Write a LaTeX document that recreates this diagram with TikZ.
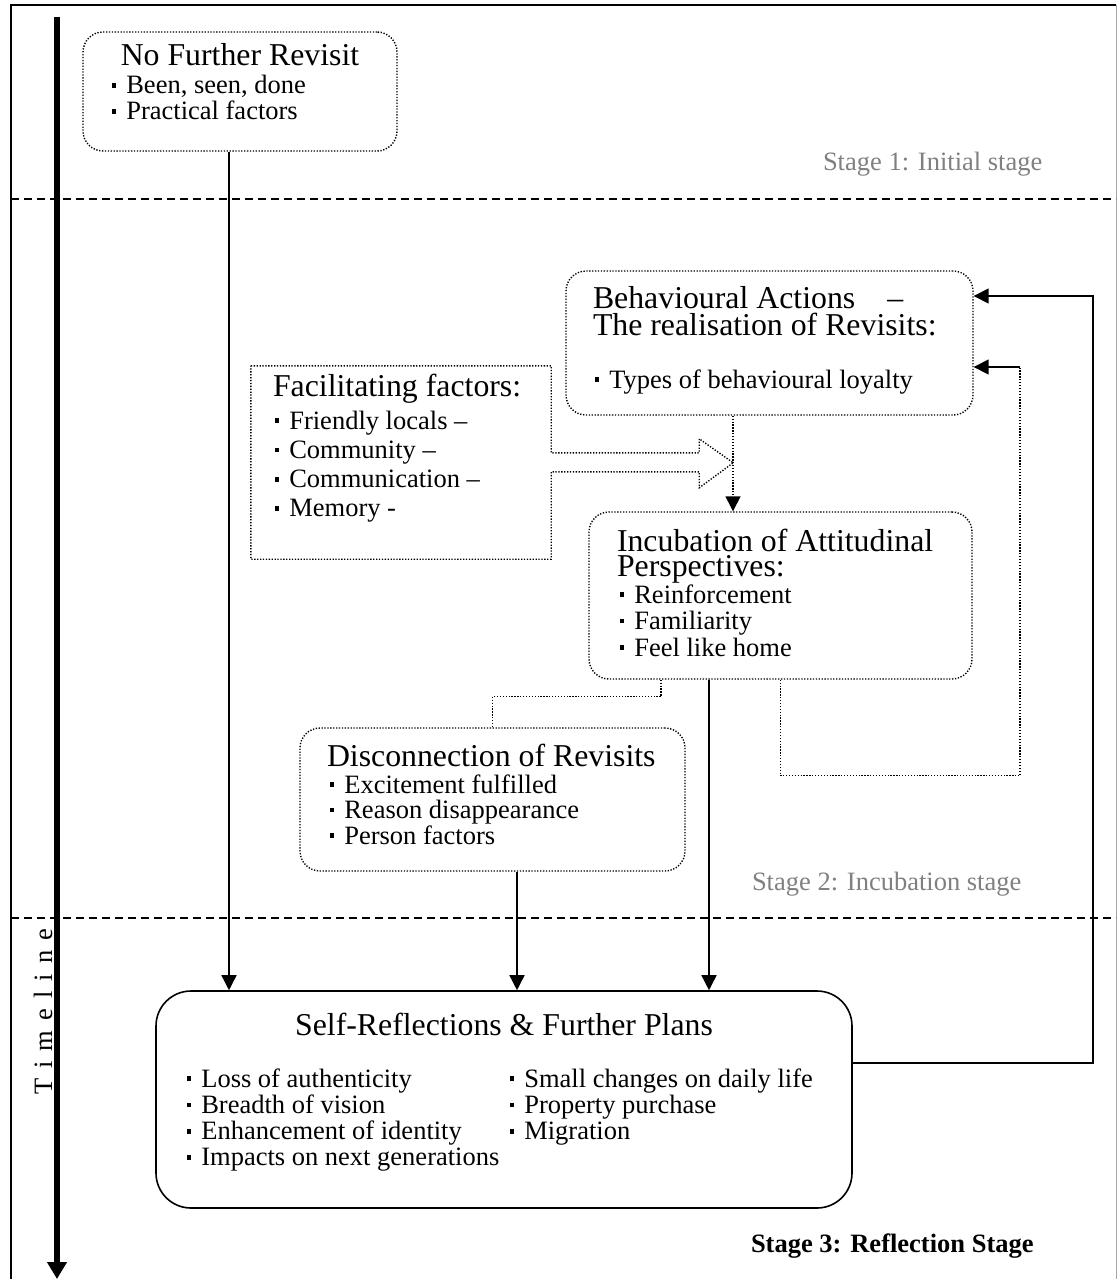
\documentclass[tikz,border=0pt]{standalone}
\usepackage{fontspec}
\setmainfont{Liberation Serif}
\usetikzlibrary{arrows.meta}

\definecolor{stagegray}{gray}{0.5}
\newcommand\titlefont{\fontsize{31.8pt}{27pt}\selectfont}
\newcommand\bodyfont{\fontsize{26.5pt}{26pt}\selectfont}
% small square bullet
\newcommand\bul{\rule[0.23em]{0.15em}{0.17em}\hspace{0.39em}}
\newcommand\li[1]{\hbox{\bul #1}}
% stack of lines with a fixed baseline distance
\newcommand\stk[2]{\vtop{\lineskiplimit=-100pt\baselineskip=#1\relax #2}}

\begin{document}
\begin{tikzpicture}[x=1pt,y=-1pt,
  dotbox/.style={draw, line width=1.4pt, dash pattern=on 1.3pt off 1.6pt,
    rounded corners=20pt, inner sep=0pt},
  solidbox/.style={draw, line width=1.6pt, rounded corners=35pt, inner sep=0pt},
  dotline/.style={line width=1.4pt, dash pattern=on 1.3pt off 1.6pt},
  arr/.style={line width=1.5pt, -{Triangle[length=15pt,width=15pt]}},
  dotarr/.style={dotline, -{Triangle[length=15pt,width=15pt]}},
  sep/.style={line width=1.8pt, dash pattern=on 8pt off 5pt},
  txt/.style={anchor=base west, inner sep=0pt, outer sep=0pt, font=\bodyfont},
]
\useasboundingbox (0,0) rectangle (1117,1279);

% outer frame
\draw[line width=2.2pt] (11,1279) -- (11,5) -- (1116,5);
\draw[line width=1pt, gray!70] (1116,5) -- (1116,1279);

% stage separators
\draw[sep] (11,199) -- (1116,199);
\draw[sep] (11,918) -- (1116,918);

% timeline
\coordinate (tlA) at (57,17);
\coordinate (tlB) at (57,1279);
\draw[line width=6pt, -{Triangle[length=17pt,width=19pt]}] (tlA) -- (tlB);
\node[txt, rotate=90] (tlT) at (52,1094) {\addfontfeature{LetterSpace=38}Timeline};

% stage labels
\node[txt, text=stagegray] (st1) at (823,170) {Stage 1: Initial stage};
\node[txt, text=stagegray] (st2) at (752,890) {Stage 2: Incubation stage};
\node[txt, font=\bodyfont\bfseries] (st3) at (751,1252) {Stage 3: Reflection Stage};

% No further revisit
\node[dotbox, minimum width=314pt, minimum height=119pt] (nfr) at (240,91.5) {};
\node[txt, font=\titlefont, anchor=base] (nfrT) at (240,66) {No Further Revisit};
\node[txt] (nfrL) at (112,94) {\stk{26pt}{\li{Been, seen, done}\li{Practical factors}}};

% Behavioural actions
\node[dotbox, minimum width=407pt, minimum height=144pt] (beh) at (769.5,343) {};
\node[txt, font=\titlefont] (behT) at (593,308)
  {\stk{27pt}{\hbox{Behavioural Actions\hspace{32pt}–}\hbox{The realisation of Revisits:}}};
\node[txt] (behL) at (595,388) {\li{Types of behavioural loyalty}};

% Incubation
\node[dotbox, minimum width=383pt, minimum height=167pt] (inc) at (780.5,595.5) {};
\node[txt, font=\titlefont] (incT) at (617,551)
  {\stk{25pt}{\hbox{Incubation of Attitudinal}\hbox{Perspectives:}}};
\node[txt] (incL) at (620,603)
  {\stk{26.5pt}{\li{Reinforcement}\li{Familiarity}\li{Feel like home}}};

% Facilitating factors (box with block arrow)
\node[inner sep=0pt, minimum width=300pt, minimum height=193pt] (fac) at (401,462.5) {};
\draw[dotline] (fac.north west) -- (fac.north east) -- ++(0,87) -- ++(148,0)
  -- ++(0,-14) -- ++(34,24) -- ++(-34,25) -- ++(0,-16) -- ++(-148,0)
  |- (fac.south west) -- cycle;
\node[txt, font=\titlefont] (facT) at (273,396) {Facilitating factors:};
\node[txt] (facL) at (275,429)
  {\stk{29.3pt}{\li{Friendly locals –}\li{Community –}\li{Communication –}\li{Memory -}}};

% Disconnection
\node[dotbox, minimum width=385pt, minimum height=143pt] (dis) at (492.5,799.5) {};
\node[txt, font=\titlefont] (disT) at (327,766) {Disconnection of Revisits};
\node[txt] (disL) at (330,793)
  {\stk{25.5pt}{\li{Excitement fulfilled}\li{Reason disappearance}\li{Person factors}}};

% Self-reflections
\node[solidbox, minimum width=696pt, minimum height=217pt] (srf) at (504,1099.5) {};
\node[txt, font=\titlefont, anchor=base] (srfT) at (504,1035) {Self-Reflections \& Further Plans};
\node[txt] (srfA) at (187,1087)
  {\stk{26.3pt}{\li{Loss of authenticity}\li{Breadth of vision}\li{Enhancement of identity}\li{Impacts on next generations}}};
\node[txt] (srfB) at (510,1087)
  {\stk{26.3pt}{\li{Small changes on daily life}\li{Property purchase}\li{Migration}}};

% connectors into self-reflections
\coordinate (a1) at ([xshift=-11pt]nfr.south);
\draw[arr] (a1) -- (a1 |- srf.north);
\coordinate (a2) at ([xshift=24.5pt]dis.south);
\draw[arr] (a2) -- (a2 |- srf.north);
\coordinate (a3) at ([xshift=-71.5pt]inc.south);
\draw[arr] (a3) -- (a3 |- srf.north);

% incubation to disconnection
\coordinate (a4) at ([xshift=-119.5pt]inc.south);
\draw[dotline] (a4) -- ++(0,17) -| (dis.north);

% behavioural actions to incubation
\coordinate (a5) at ([xshift=-36.5pt]beh.south);
\draw[dotarr] (a5) -- (a5 |- inc.north);

% feedback from self-reflections
\coordinate (f1) at ([yshift=36.5pt]srf.east);
\coordinate (f2) at ([yshift=47pt]beh.east);
\coordinate (fbx) at (1093,0);
\draw[arr] (f1) -- (f1 -| fbx) |- (f2);

% feedback loop from incubation
\coordinate (g1) at ([yshift=-24pt]beh.east);
\coordinate (gbx) at (1020,0);
\draw[dotline] (inc.south) -- ++(0,96) -| (g1 -| gbx);
\draw[arr] (g1 -| gbx) -- (g1);
\end{tikzpicture}
\end{document}
